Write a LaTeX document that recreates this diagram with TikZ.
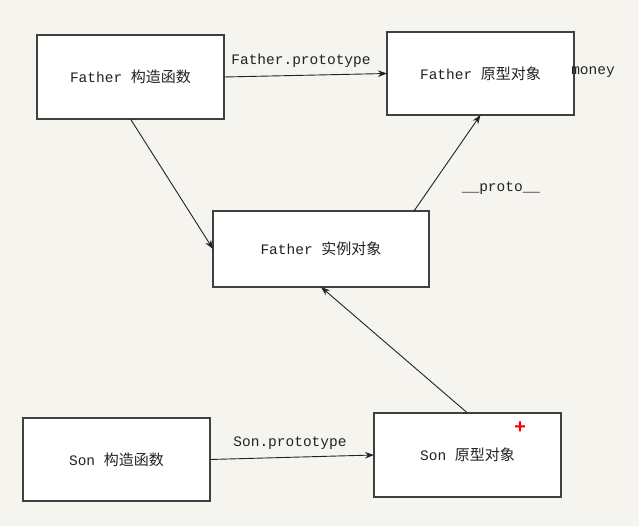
\documentclass[tikz,border=0pt]{standalone}
\usepackage{fontspec}
\setmainfont{Liberation Mono}
\newfontfamily\cjk{Noto Sans CJK SC}
\usetikzlibrary{arrows.meta}
\definecolor{paper}{HTML}{F6F4EE}
\definecolor{ink}{HTML}{222222}
\definecolor{frame}{HTML}{404040}
\newcommand{\zh}[1]{{\cjk\fontsize{15}{18}\selectfont #1}}
\tikzset{
  box/.style={draw=frame, line width=1.4pt, fill=white, inner sep=0pt, outer sep=0pt,
    text=ink, font=\fontsize{14.5}{17}\selectfont},
  link/.style={draw=ink, line width=0.9pt, -{Stealth[length=9pt,width=6.5pt]}},
  tag/.style={text=ink, font=\fontsize{14.5}{17}\selectfont, inner sep=0pt}
}
\begin{document}
\begin{tikzpicture}[x=1pt,y=-1pt]
  \fill[paper] (0,0) rectangle (639,526);
  \useasboundingbox (0,0) rectangle (639,526);

  % constructor and prototype boxes
  \node[box, minimum width=187pt, minimum height=84pt] (fc) at (130.5,77) {Father \zh{构造函数}};
  \node[box, minimum width=187pt, minimum height=83pt] (fp) at (480.5,73.5) {Father \zh{原型对象}};
  \node[box, minimum width=216pt, minimum height=76pt] (fi) at (321,249) {Father \zh{实例对象}};
  \node[box, minimum width=187pt, minimum height=83pt] (sc) at (116.5,459.5) {Son \zh{构造函数}};
  \node[box, minimum width=187pt, minimum height=84pt] (sp) at (467.5,455) {Son \zh{原型对象}};

  % links between them
  \draw[link] (fc.east) -- (fp.west);
  \draw[link] (fc.south) -- (fi.west);
  \draw[link] ([xshift=-15pt]fi.north east) -- (fp.south);
  \draw[link] (sp.north) -- (fi.south);
  \draw[link] (sc.east) -- (sp.west);

  % labels
  \node[tag] (lfp) at (301,61) {Father.prototype};
  \node[tag] (lpr) at (501,188) {\_\_proto\_\_};
  \node[tag] (lsp) at (290,443) {Son.prototype};
  \node[tag] (lmo) at (593,72) {money};
  \node[text=red, font=\bfseries\fontsize{20}{20}\selectfont, inner sep=0pt] (plus) at (520,428) {+};
\end{tikzpicture}
\end{document}
